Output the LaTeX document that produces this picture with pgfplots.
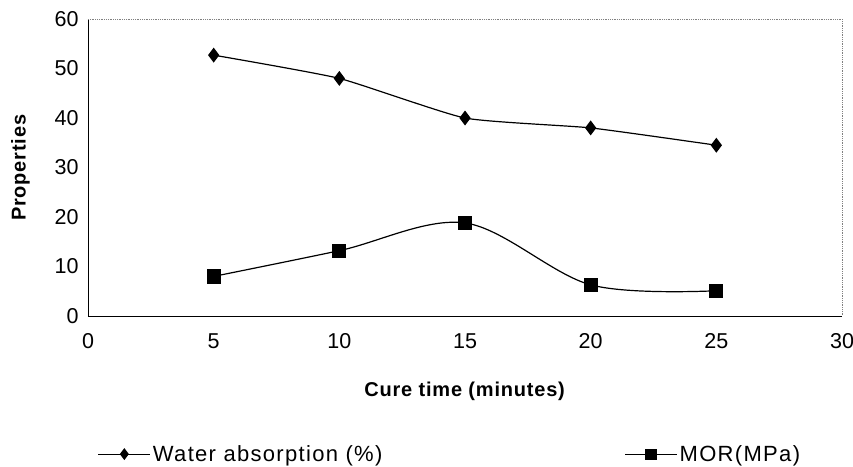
\documentclass[border=0pt]{standalone}
\usepackage{pgfplots}
\pgfplotsset{compat=1.18}
\usepackage{fontspec}
\setmainfont{Liberation Sans}
\begin{document}
\begin{tikzpicture}
\begin{axis}[
  scale only axis,
  width=754pt, height=297pt,
  xmin=0, xmax=30, ymin=0, ymax=60,
  xtick={0,5,...,30}, ytick={0,10,...,60},
  major tick length=0pt,
  axis x line*=bottom, axis y line*=left,
  axis line style={black, line width=0.8pt, -},
  /pgf/number format/assume math mode=true,
  tick label style={font=\fontsize{21.5}{24}\selectfont},
  xticklabel style={yshift=-14pt},
  yticklabel style={xshift=-6pt},
  xlabel={\textbf{Cure time (minutes)}},
  ylabel={\textbf{Properties}},
  label style={font=\addfontfeatures{LetterSpace=4}\fontsize{20}{24}\selectfont},
  xlabel style={yshift=-26pt},
  ylabel style={yshift=18pt},
  legend columns=2,
  legend style={at={(0.48,-0.465)}, anchor=center, draw=none, fill=none,
    font=\addfontfeatures{LetterSpace=6}\fontsize{22}{26}\selectfont,
    /tikz/every even column/.append style={column sep=240pt}},
  legend image code/.code={
    \draw[#1, mark=none] (0pt,0pt) -- (52pt,0pt);
    \path[#1, mark size=5pt] plot coordinates {(26pt,0pt)};
  },
  clip=false,
]
\addplot[black, line width=1.2pt, smooth, tension=0.3, mark=diamond*, mark size=6.5pt, mark options={solid}]
  coordinates {(5,52.7) (10,48.0) (15,40.0) (20,38.0) (25,34.5)};
\addlegendentry{Water absorption (\%)}
\addplot[black, line width=1.2pt, smooth, tension=0.55, mark=square*, mark size=6.5pt, mark options={solid}]
  coordinates {(5,8.0) (10,13.2) (15,18.8) (20,6.3) (25,5.1)};
\addlegendentry{MOR(MPa)}
\draw[gray, densely dotted, line width=0.8pt] (rel axis cs:0,1) -- (rel axis cs:1,1) -- (rel axis cs:1,0);
\end{axis}
\pgfresetboundingbox
\path[use as bounding box] ([shift={(-88pt,-150pt)}]current axis.south west) rectangle ++(853pt,466pt);
\end{tikzpicture}
\end{document}
